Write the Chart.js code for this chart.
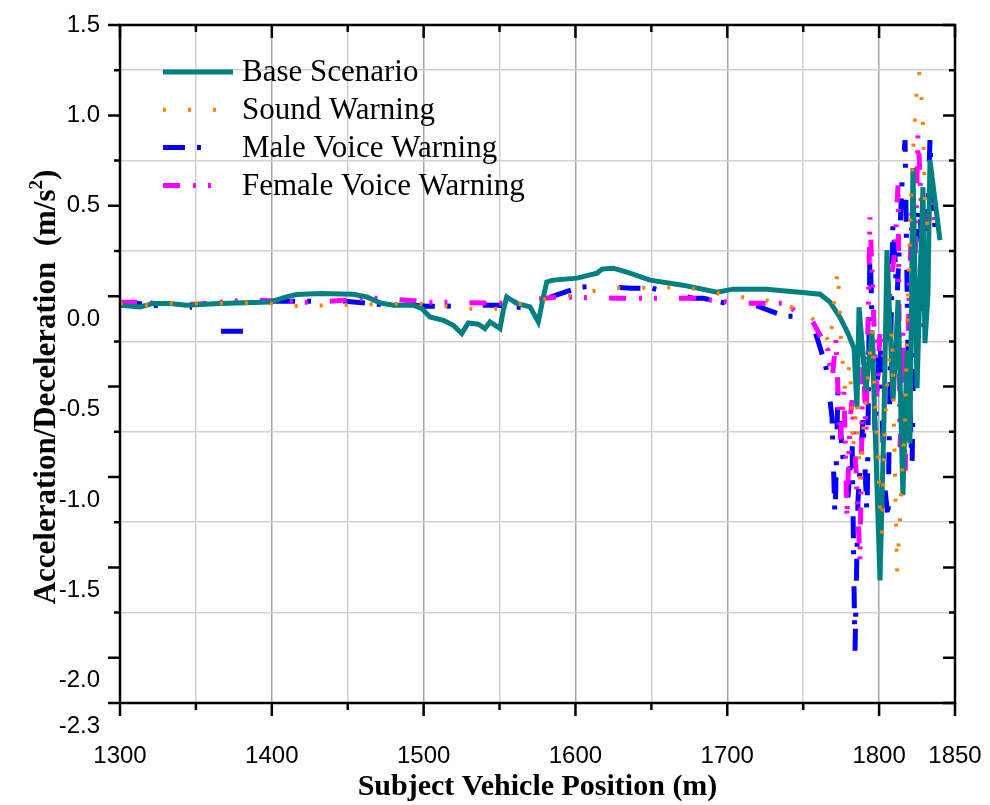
<!DOCTYPE html>
<html>
<head>
    <title>Acceleration/Deceleration vs Subject Vehicle Position</title>
    <script src="https://cdn.jsdelivr.net/npm/chart.js"></script>
    <style>
        body { margin: 0; background-color: white; }
        canvas { display: block; }
    </style>
</head>
<body>
    <canvas id="accChart" width="990" height="805"></canvas>

    <script>
        // tick values and labels
        const xTickValues = [1300, 1350, 1400, 1450, 1500, 1550, 1600, 1650, 1700, 1750, 1800, 1850];
        const xTickLabels = ['1300', '', '1400', '', '1500', '', '1600', '', '1700', '', '1800', '1850'];
        const yTickValues = [-2.25, -2.0, -1.75, -1.5, -1.25, -1.0, -0.75, -0.5, -0.25, 0.0, 0.25, 0.5, 0.75, 1.0, 1.25, 1.5];
        const yLabelValues = [1.5, 1.0, 0.5, 0.0, -0.5, -1.0, -1.5, -2.0, -2.25];
        const yLabelTexts = ['1.5', '1.0', '0.5', '0.0', '-0.5', '-1.0', '-1.5', '-2.0', '-2.3'];

        const seriesNames = ['Base Scenario', 'Sound Warning', 'Male Voice Warning', 'Female Voice Warning'];

        // Base Scenario
        const baseX = [1300, 1313.2, 1321.9, 1332.9, 1343.9, 1365.9, 1387.8, 1398.8, 1409.8, 1416.4, 1431.7, 1453.7,
            1462.5, 1471.3, 1480.0, 1493.2, 1498.7, 1504.2, 1513.0, 1519.5, 1525.1, 1529.4, 1536.0, 1540.4, 1543.7,
            1550.3, 1552.5, 1554.7, 1561.3, 1570.1, 1575.5, 1578.4, 1581.1, 1585.4, 1601.0, 1614.2, 1617.5, 1624.7,
            1633.9, 1649.1, 1670.8, 1693.2, 1703.8, 1726.2, 1732.8, 1747.9, 1761.1, 1767.7, 1774.2, 1779.5, 1783.5,
            1785.4, 1786.8, 1791.4, 1795.3, 1800.6, 1803.2, 1805.2, 1809.2, 1812.5, 1815.7, 1818.4, 1820.3, 1822.3,
            1825.0, 1827.0, 1828.9, 1830.2, 1832.2, 1833.5, 1836.8, 1840.1];
        const baseY = [-0.050, -0.059, -0.040, -0.040, -0.050, -0.040, -0.035, -0.032, -0.004, 0.009, 0.015, 0.011,
            -0.004, -0.037, -0.050, -0.050, -0.068, -0.115, -0.133, -0.161, -0.206, -0.148, -0.155, -0.179, -0.142,
            -0.179, -0.077, -0.004, -0.040, -0.059, -0.142, -0.022, 0.079, 0.089, 0.100, 0.127, 0.150, 0.155,
            0.133, 0.089, 0.061, 0.022, 0.039, 0.039, 0.033, 0.022, 0.011, -0.033, -0.116, -0.205, -0.288,
            -0.614, -0.061, -0.520, -0.188, -1.572, -0.686, 0.255, -0.576, -0.022, -1.101, -0.299, -0.814, 0.709,
            -0.509, 0.089, 0.603, -0.260, 0.011, 0.753, 0.531, 0.310];

        // Sound Warning
        const soundX = [1300, 1316.5, 1331.6, 1396.8, 1414.0, 1494.3, 1542.4, 1576.6, 1605.0, 1621.4, 1670.2, 1686.6,
            1703.1, 1718.3, 1749.9, 1762.4, 1767.7, 1771.0, 1772.9, 1774.9, 1777.6, 1780.8, 1782.8, 1785.4, 1787.4,
            1790.1, 1792.7, 1795.3, 1798.0, 1799.3, 1800.6, 1801.9, 1803.9, 1805.9, 1808.5, 1811.8, 1813.8, 1815.1,
            1817.1, 1819.0, 1821.0, 1822.3, 1824.3, 1826.3, 1827.6, 1828.9, 1830.2, 1832.2];
        const soundY = [-0.039, -0.050, -0.039, -0.039, -0.055, -0.039, -0.078, -0.022, 0.017, 0.044, 0.050, 0.033,
            -0.006, -0.006, -0.078, -0.172, -0.271, 0.033, 0.144, -0.243, -0.520, -0.371, -0.852, -0.576, -1.018,
            -0.686, -0.465, -0.188, -0.686, -0.908, -1.184, -1.312, -0.686, -0.410, -0.188, -1.528, -1.229, -1.002,
            -0.686, -0.022, 0.531, 0.792, 1.085, 1.240, 1.140, 0.947, 0.531, 0.365];

        // Male Voice Warning (null = gap)
        const maleX = [1300, 1310.5, 1334.3, 1347.4, 1356.0, 1366.5, 1381.0, 1391.0, 1400.8, 1414.0, 1435.0, 1448.2,
            1469.3, 1482.5, 1502.2, 1515.4, 1535.8, 1549.0, 1568.7, 1583.2, 1593.1, 1603.0, 1616.2, 1637.2, 1650.4,
            1677.4, 1684.0, 1705.1, 1718.3, 1738.0, 1749.9, 1757.8, 1761.1, 1765.0, 1769.0, 1771.0, 1772.9, 1775.6,
            1779.5, 1782.2, 1784.1, 1786.1, 1789.4, 1792.1, 1794.0, 1797.3, 1800.6, 1803.2, 1805.9, 1807.2, 1809.2,
            1811.8, 1815.1, 1817.1, 1819.0, 1821.7, 1823.6, 1826.9, 1829.6, 1831.5, 1833.5, 1834.8, 1837.5];
        const maleY = [-0.039, -0.039, -0.061, -0.061, null, -0.194, -0.194, null, -0.028, -0.028, -0.028, -0.028,
            -0.044, -0.044, -0.055, -0.055, -0.050, -0.050, -0.066, -0.006, 0.022, 0.050, 0.055, 0.044, 0.044,
            -0.011, -0.011, -0.050, -0.050, -0.111, -0.111, -0.194, -0.282, -0.393, -0.670, -1.240, -0.520, -0.852,
            -1.113, -0.797, -1.976, -1.129, -0.686, -1.223, 0.293, -0.742, -0.188, -1.018, -1.223, -0.465, 0.437,
            -0.022, 0.625, 0.863, -0.299, -0.963, 0.255, 0.531, -0.188, 0.310, 0.863, 0.587, 0.310];

        // Female Voice Warning
        const femaleX = [1300, 1309.9, 1340.8, 1350.7, 1381.0, 1390.9, 1421.9, 1431.7, 1462.7, 1472.6, 1504.2, 1514.1,
            1545.0, 1554.9, 1585.2, 1595.1, 1626.0, 1635.9, 1666.9, 1677.4, 1707.1, 1718.3, 1738.0, 1746.6, 1755.8,
            1761.1, 1766.3, 1769.0, 1771.6, 1774.2, 1776.9, 1778.8, 1780.8, 1782.2, 1784.8, 1787.4, 1789.4, 1791.4,
            1794.0, 1796.0, 1798.6, 1800.6, 1803.2, 1805.9, 1807.2, 1810.5, 1812.5, 1813.8, 1815.7, 1817.1, 1819.7,
            1821.7, 1823.6, 1825.6, 1828.3, 1830.9, 1832.9, 1834.8, 1836.8];
        const femaleY = [-0.033, -0.033, -0.044, -0.044, -0.022, -0.022, -0.033, -0.033, -0.011, -0.011, -0.033, -0.033,
            -0.039, -0.039, -0.006, -0.006, -0.011, -0.011, -0.011, -0.011, -0.039, -0.039, -0.039, -0.094, -0.133,
            -0.216, -0.299, -0.465, -0.243, -0.814, -0.520, -1.223, -0.686, -0.576, -0.963, -1.461, -0.299, -0.742,
            0.437, -0.022, -0.576, -0.188, -0.354, -0.243, 0.050, 0.255, 0.625, -0.836, -0.188, -1.018, -0.022,
            0.493, 0.127, 0.902, 0.421, 0.199, 0.476, 0.531, 0.365];

        const toPoints = (xs, ys) => xs.map((x, i) => ({ x: x, y: ys[i] }));

        const datasets = [
            { label: seriesNames[0], data: toPoints(baseX, baseY), borderColor: '#008080', borderWidth: 5, borderDash: [], order: 1 },
            { label: seriesNames[1], data: toPoints(soundX, soundY), borderColor: '#ff8000', borderWidth: 4, borderDash: [3, 22], order: 0 },
            { label: seriesNames[2], data: toPoints(maleX, maleY), borderColor: '#0000ff', borderWidth: 5, borderDash: [22, 12, 4, 32], order: 3 },
            { label: seriesNames[3], data: toPoints(femaleX, femaleY), borderColor: '#ff00ff', borderWidth: 5, borderDash: [17, 13, 3, 12, 3, 22], order: 2 }
        ];
        datasets.forEach(d => {
            d.pointRadius = 0;
            d.tension = 0;
            d.fill = false;
            d.spanGaps = false;
            d.borderCapStyle = 'butt';
            d.borderJoinStyle = 'miter';
        });

        const serif = '"Liberation Serif", "Times New Roman", serif';
        const sans = '"Liberation Sans", Arial, sans-serif';

        // frame, tick marks, y labels, titles and legend
        const decorPlugin = {
            id: 'decor',
            afterDraw(chart) {
                const ctx = chart.ctx;
                const a = chart.chartArea;
                const xs = chart.scales.x, ys = chart.scales.y;
                ctx.save();
                ctx.strokeStyle = '#000';
                ctx.lineWidth = 2.5;
                ctx.setLineDash([]);
                ctx.strokeRect(a.left, a.top, a.right - a.left, a.bottom - a.top);

                // y ticks (out on left, in on right)
                yTickValues.forEach(v => {
                    const py = ys.getPixelForValue(v);
                    const major = Number.isInteger(Math.round(v * 100) / 50) || v === -2.25;
                    const len = major ? 12 : 6;
                    ctx.beginPath();
                    ctx.moveTo(a.left - len, py); ctx.lineTo(a.left, py);
                    ctx.moveTo(a.right, py); ctx.lineTo(a.right - len, py);
                    ctx.stroke();
                });
                // x ticks (out on bottom, in on top)
                xTickValues.forEach(v => {
                    const px = xs.getPixelForValue(v);
                    const major = v % 100 === 0 || v === 1850;
                    const len = major ? 13 : 7;
                    ctx.beginPath();
                    ctx.moveTo(px, a.bottom); ctx.lineTo(px, a.bottom + len);
                    ctx.moveTo(px, a.top); ctx.lineTo(px, a.top + len);
                    ctx.stroke();
                });

                // y tick labels (labels at and below 0 sit lower in the original)
                ctx.fillStyle = '#000';
                ctx.font = '24px ' + sans;
                ctx.textAlign = 'right';
                ctx.textBaseline = 'middle';
                yLabelValues.forEach((v, i) => {
                    const shift = v <= 0 ? 23 : 0;
                    ctx.fillText(yLabelTexts[i], 100, ys.getPixelForValue(v) + shift);
                });

                // x title
                ctx.font = 'bold 30px ' + serif;
                ctx.textAlign = 'center';
                ctx.textBaseline = 'middle';
                ctx.fillText('Subject Vehicle Position (m)', (a.left + a.right) / 2, 787);

                // y title with superscript
                ctx.save();
                ctx.translate(45, (a.top + a.bottom) / 2 + 23);
                ctx.rotate(-Math.PI / 2);
                const main = 'Acceleration/Deceleration  (m/s';
                ctx.font = 'bold 31px ' + serif;
                const wMain = ctx.measureText(main).width;
                const wClose = ctx.measureText(')').width;
                ctx.font = 'bold 19px ' + serif;
                const wSup = ctx.measureText('2').width;
                const total = wMain + wSup + wClose;
                let tx = -total / 2;
                ctx.textAlign = 'left';
                ctx.textBaseline = 'alphabetic';
                ctx.font = 'bold 31px ' + serif;
                ctx.fillText(main, tx, 10);
                tx += wMain;
                ctx.font = 'bold 19px ' + serif;
                ctx.fillText('2', tx, -3);
                tx += wSup;
                ctx.font = 'bold 31px ' + serif;
                ctx.fillText(')', tx, 10);
                ctx.restore();

                // legend inside plot
                ctx.font = '31px ' + serif;
                ctx.textAlign = 'left';
                ctx.textBaseline = 'middle';
                chart.data.datasets.forEach((d, i) => {
                    const ly = 72 + i * 37.8;
                    ctx.strokeStyle = d.borderColor;
                    ctx.lineWidth = d.borderWidth;
                    ctx.lineCap = 'butt';
                    ctx.setLineDash(d.borderDash);
                    ctx.beginPath();
                    ctx.moveTo(163, ly); ctx.lineTo(233, ly);
                    ctx.stroke();
                    ctx.setLineDash([]);
                    ctx.fillStyle = '#000';
                    ctx.fillText(d.label, 242, ly + 1);
                });
                ctx.restore();
            }
        };

        const ctx = document.getElementById('accChart').getContext('2d');
        new Chart(ctx, {
            type: 'line',
            data: { datasets: datasets },
            options: {
                responsive: false,
                animation: false,
                devicePixelRatio: 1,
                layout: { padding: { left: 0, right: 35, top: 25, bottom: 0 } },
                plugins: { legend: { display: false }, tooltip: { enabled: false } },
                scales: {
                    x: {
                        type: 'linear',
                        min: 1300,
                        max: 1850,
                        afterBuildTicks: s => { s.ticks = xTickValues.map(v => ({ value: v })); },
                        afterFit: s => { s.height = 102; s.paddingLeft = 0; s.paddingRight = 0; },
                        border: { display: false },
                        grid: {
                            drawTicks: false,
                            lineWidth: 1.5,
                            color: c => (c.tick && c.tick.value % 100 === 0) ? '#a6a6a6' : '#d2d2d2'
                        },
                        ticks: {
                            autoSkip: false,
                            maxRotation: 0,
                            padding: 39,
                            color: '#000',
                            font: { family: sans, size: 24 },
                            callback: (v, i) => xTickLabels[xTickValues.indexOf(v)]
                        }
                    },
                    y: {
                        type: 'linear',
                        min: -2.25,
                        max: 1.5,
                        afterBuildTicks: s => { s.ticks = yTickValues.map(v => ({ value: v })); },
                        afterFit: s => { s.width = 120; s.paddingTop = 0; s.paddingBottom = 0; },
                        border: { display: false },
                        grid: {
                            drawTicks: false,
                            lineWidth: 1.5,
                            color: c => {
                                if (!c.tick) return 'transparent';
                                const m = Math.round(c.tick.value * 100);
                                return m % 50 === 0 ? 'transparent' : '#d2d2d2';
                            }
                        },
                        ticks: { display: false }
                    }
                }
            },
            plugins: [decorPlugin]
        });
    </script>
</body>
</html>
